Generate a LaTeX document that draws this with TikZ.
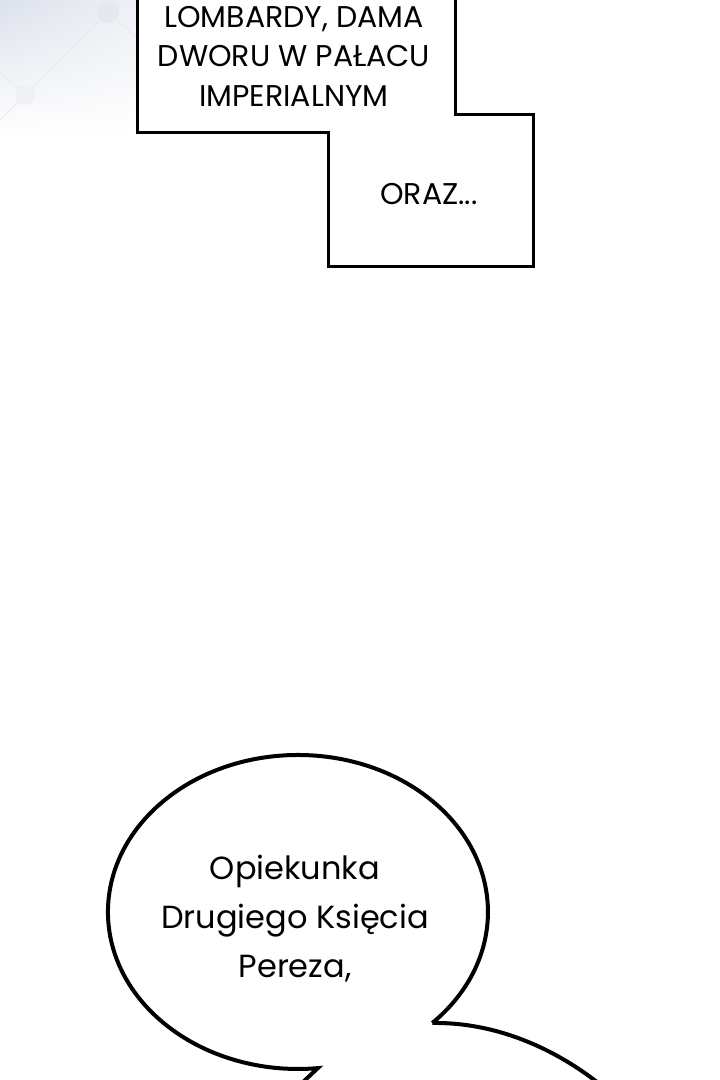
\documentclass[tikz,border=0pt]{standalone}
\usepackage{fontspec}
\setmainfont{Poppins}
\usetikzlibrary{shadings}
\definecolor{bgA}{HTML}{DCE1EC}
\definecolor{bgB}{HTML}{EEF0F5}
\definecolor{netc}{HTML}{E6E8EE}
\tikzset{
  boxline/.style={draw=black, line width=3pt, fill=white, line join=miter},
  bubline/.style={draw=black, line width=4pt, fill=white, line join=miter},
  boxtext/.style={font=\fontsize{30}{39.5}\selectfont, align=center, inner sep=0pt},
  bubtext/.style={font=\fontsize{32}{49}\selectfont, align=center, inner sep=0pt},
}
\begin{document}
\begin{tikzpicture}[x=1pt,y=1pt]
\useasboundingbox (0,0) rectangle (720,1080);
\clip (0,0) rectangle (720,1080);
% faint background in the top-left corner
\shade[upper left=bgA, upper right=bgB, lower left=white, lower right=white] (0,945) rectangle (140,1080);
\draw[netc, line width=0.6pt] (0,1008) -- (25,985) -- (108,1068) -- (140,1040);
\draw[netc, line width=0.6pt] (25,985) -- (0,960);
\fill[netc] (108,1068) circle (11);
\fill[netc!60] (25,985) circle (10);
% caption boxes
\path[boxline] (137,1090) -- (137,947) -- (328,947) -- (328,813) -- (533,813) -- (533,965) -- (455,965) -- (455,1090) -- cycle;
\node[boxtext] (t1) at (294,1024) {LOMBARDY, DAMA\\DWORU W PAŁACU\\IMPERIALNYM};
\node[boxtext] (t2) at (429,886) {ORAZ...};
% speech bubble
\path[bubline] (432.3,57) arc[start angle=-45, end angle=276, x radius=190, y radius=157] -- (302,-3);
\draw[bubline, fill=none] (432.3,57) .. controls (495,58) and (555,32) .. (602,-6);
\node[bubtext] (b1) at (295,161) {Opiekunka\\Drugiego Księcia\\Pereza,};
\end{tikzpicture}
\end{document}
